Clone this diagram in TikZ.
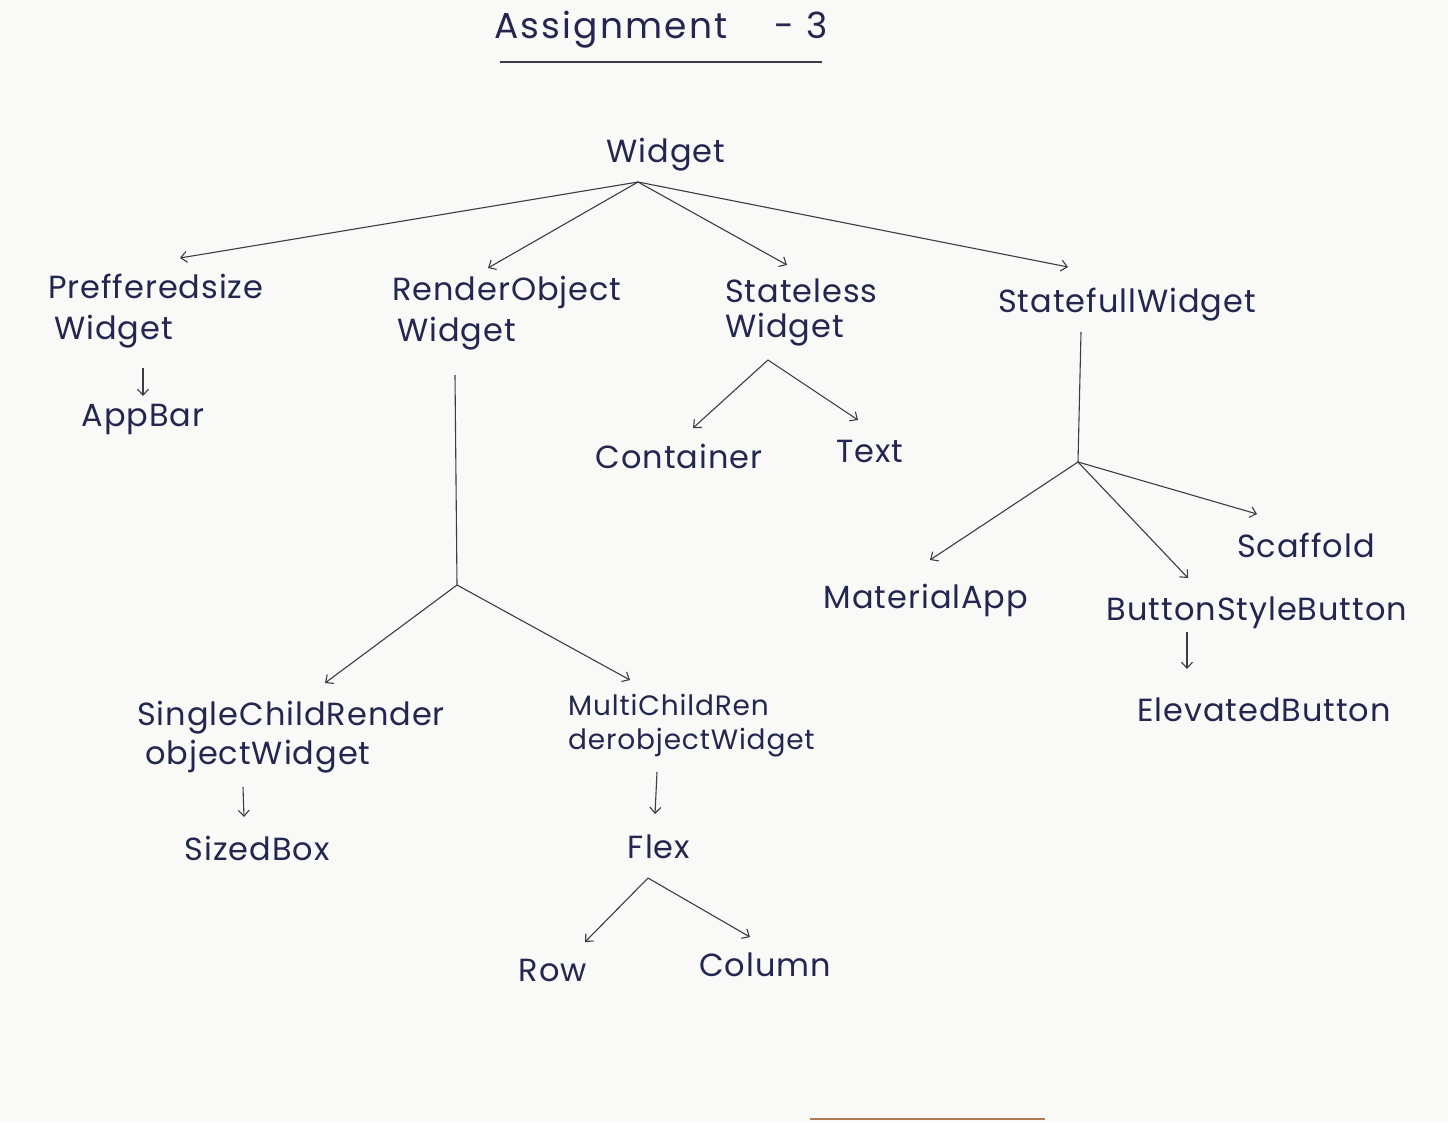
\documentclass[tikz,border=0pt]{standalone}
\usepackage{fontspec}
\setmainfont{Poppins}[LetterSpace=3]
\newfontfamily\titlefont{Poppins}[LetterSpace=6]
\usetikzlibrary{arrows.meta}
\definecolor{ink}{HTML}{23274F}
\definecolor{pen}{HTML}{3C3C46}
\definecolor{paper}{HTML}{F9F9F7}
\definecolor{edgebrown}{HTML}{B07C55}
\begin{document}
\begin{tikzpicture}[x=1pt,y=-1pt,
  lbl/.style={text=ink, font=\fontsize{32}{43}\selectfont, inner sep=0pt, align=left},
  ttl/.style={text=ink, font=\titlefont\fontsize{36}{40}\selectfont, inner sep=0pt},
  edge/.style={draw=pen, line width=1.1pt, -{Straight Barb[length=6pt,width=11pt]}},
  plain/.style={draw=pen, line width=1.1pt}]
\fill[paper] (0,0) rectangle (1448,1122);
\useasboundingbox (0,0) rectangle (1448,1122);

% title
\node[ttl] (title) at (661,30) {Assignment \ \ \ - 3};
\coordinate (u1) at (500,62);
\coordinate (u2) at (822,62);
\draw[plain] (u1) -- (u2);

% nodes
\node[lbl] (widget) at (666,155) {Widget};
\node[lbl, anchor=north west] (pref) at (48,274) {Prefferedsize\\[-2pt]\hspace*{6pt}Widget};
\node[lbl] (appbar) at (143,420) {AppBar};
\node[lbl, anchor=north west] (render) at (392,276) {RenderObject\\[-2pt]\hspace*{5pt}Widget};
\node[lbl, anchor=north west] (stateless) at (725,279) {Stateless\\[-8pt]Widget};
\node[lbl] (stateful) at (1127,305) {StatefullWidget};
\node[lbl] (container) at (679,456) {Container};
\node[lbl] (text) at (870,451) {Text};
\node[lbl] (scaffold) at (1306,545) {Scaffold};
\node[lbl] (material) at (926,600) {MaterialApp};
\node[lbl] (bsb) at (1257,613) {ButtonStyleButton};
\node[lbl] (elevated) at (1264,710) {ElevatedButton};
\node[lbl, anchor=north west] (single) at (137,701) {SingleChildRender\\[-4pt]\hspace*{8pt}objectWidget};
\node[lbl] (sizedbox) at (257,848) {SizedBox};
\node[lbl, anchor=north west, font=\fontsize{28}{34}\selectfont] (multi) at (568,694) {MultiChildRen\\derobjectWidget};
\node[lbl] (flex) at (659,847) {Flex};
\node[lbl] (row) at (553,970) {Row};
\node[lbl] (column) at (765,965) {Column};

% connector junctions and ends
\coordinate (w0) at (638,182);
\coordinate (prefIn) at (180,258);
\coordinate (renderIn) at (488,268);
\coordinate (statelessIn) at (787,265);
\coordinate (statefulIn) at (1068,267);
\coordinate (prefOut) at (143,368);
\coordinate (appbarIn) at (143,396);
\coordinate (renderOut) at (455,375);
\coordinate (r0) at (457,585);
\coordinate (singleIn) at (325,683);
\coordinate (multiIn) at (630,680);
\coordinate (singleOut) at (243,787);
\coordinate (sizedboxIn) at (244,817);
\coordinate (multiOut) at (657,772);
\coordinate (flexIn) at (655,814);
\coordinate (s0) at (768,360);
\coordinate (containerIn) at (693,428);
\coordinate (textIn) at (858,420);
\coordinate (statefulOut) at (1081,332);
\coordinate (f0) at (1078,462);
\coordinate (materialIn) at (930,560);
\coordinate (bsbIn) at (1188,578);
\coordinate (scaffoldIn) at (1257,514);
\coordinate (bsbOut) at (1187,632);
\coordinate (elevatedIn) at (1187,669);
\coordinate (fl0) at (648,878);
\coordinate (rowIn) at (585,942);
\coordinate (columnIn) at (750,937);

% Widget branches
\draw[edge] (w0) -- (prefIn);
\draw[edge] (w0) -- (renderIn);
\draw[edge] (w0) -- (statelessIn);
\draw[edge] (w0) -- (statefulIn);

% PreferredSize -> AppBar
\draw[edge] (prefOut) -- (appbarIn);

% RenderObject subtree
\draw[plain] (renderOut) -- (r0);
\draw[edge] (r0) -- (singleIn);
\draw[edge] (r0) -- (multiIn);
\draw[edge] (singleOut) -- (sizedboxIn);
\draw[edge] (multiOut) -- (flexIn);

% Flex subtree
\draw[edge] (fl0) -- (rowIn);
\draw[edge] (fl0) -- (columnIn);

% Stateless subtree
\draw[edge] (s0) -- (containerIn);
\draw[edge] (s0) -- (textIn);

% Stateful subtree
\draw[plain] (statefulOut) -- (f0);
\draw[edge] (f0) -- (materialIn);
\draw[edge] (f0) -- (bsbIn);
\draw[edge] (f0) -- (scaffoldIn);
\draw[edge] (bsbOut) -- (elevatedIn);

% paper edge
\draw[edgebrown, line width=1.6pt] (810,1119) -- (1045,1119);
\end{tikzpicture}
\end{document}
